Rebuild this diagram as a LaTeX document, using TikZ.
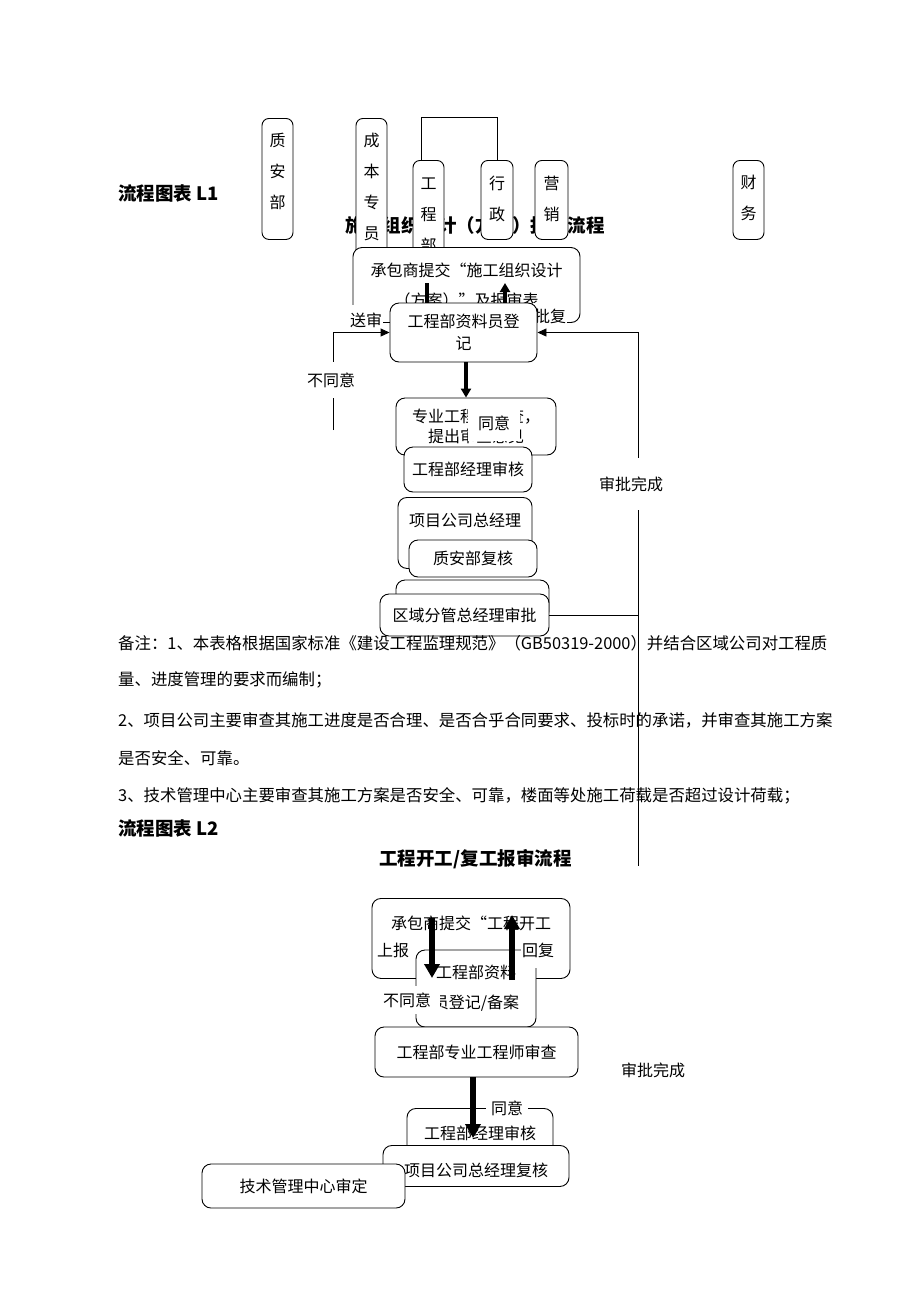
\documentclass[tikz,border=0pt]{standalone}
\usepackage{fontspec}
\setmainfont{Noto Sans CJK SC}
\usetikzlibrary{arrows.meta}

\newcommand{\boxfont}{\fontsize{16}{22}\selectfont}
\newcommand{\notefont}{\fontsize{16.4}{20}\selectfont}
\newcommand{\headfont}{\fontsize{18.5}{22}\selectfont\bfseries}
\newcommand{\vcol}[1]{\vtop{\baselineskip=31pt #1}}

\tikzset{
  box/.style={draw, line width=0.9pt, rounded corners=9pt, fill=white, align=center, font=\boxfont, inner sep=0pt},
  topbox/.style={box, anchor=north},
  vbox/.style={draw, line width=0.9pt, rounded corners=7pt, fill=white, font=\boxfont, inner sep=0pt, anchor=north},
  lbl/.style={fill=white, font=\boxfont, inner xsep=1pt, inner ysep=0pt},
  link/.style={line width=0.9pt},
  flow/.style={line width=0.9pt, -{Triangle[length=9pt,width=8pt]}},
  fatarrow/.style={line width=3.5pt, -{Triangle[length=9pt,width=10pt]}},
  hugearrow/.style={line width=6.5pt, -{Triangle[length=14pt,width=15pt]}},
  note/.style={anchor=west, font=\notefont, inner sep=0pt},
  head/.style={font=\headfont, inner sep=0pt},
}

\begin{document}
\begin{tikzpicture}[x=1pt,y=-1pt]
    \fill[white] (0,0) rectangle (920,1302);
    \useasboundingbox (0,0) rectangle (920,1302);

    % flow chart L1
    \node[head, anchor=west] (l1) at (118,193) {流程图表 L1};
    \node[head] (t1) at (475,225) {施工组织设计（方案）报审流程};

    \node[vbox, minimum width=31pt, text height=28pt, text depth=93pt] (zab) at (277.5,118) {\vcol{\hbox{质}\hbox{安}\hbox{部}}};
    \node[vbox, minimum width=31pt, text height=28pt, text depth=124pt] (cbzy) at (371.5,118) {\vcol{\hbox{成}\hbox{本}\hbox{专}\hbox{员}}};
    \node[vbox, minimum width=31pt, text height=29pt, text depth=81pt] (gcb) at (428.5,160) {\vcol{\hbox{工}\hbox{程}\hbox{部}}};
    \node[vbox, minimum width=32pt, text height=29pt, text depth=50pt] (xz) at (497,160) {\vcol{\hbox{行}\hbox{政}}};
    \node[vbox, minimum width=33pt, text height=29pt, text depth=50pt] (yx) at (551.5,160) {\vcol{\hbox{营}\hbox{销}}};
    \node[vbox, minimum width=31pt, text height=28pt, text depth=51pt] (cw) at (748.5,160) {\vcol{\hbox{财}\hbox{务}}};
    \draw[link] ([xshift=-7.5pt]gcb.north) -- ++(0,-43) -| (xz.north);

    \node[box, minimum width=227pt, minimum height=75pt, font=\fontsize{16}{30}\selectfont] (cb1) at (466.5,285) {承包商提交“施工组织设计\\（方案）”及报审表};

    \coordinate (sd1) at (427,283);
    \coordinate (sd2) at (427,320);
    \coordinate (pf1) at (505,320);
    \coordinate (pf2) at (505,283);
    \draw[fatarrow] (sd1) -- (sd2);
    \draw[fatarrow] (pf1) -- (pf2);
    \node[lbl, minimum height=26pt] (pf) at (550,316) {批复};
    \node[lbl, minimum height=30pt] (sd) at (366,320) {送审};

    \node[box, minimum width=147pt, minimum height=59pt] (reg) at (463.5,332.5) {工程部资料员登\\记};

    \coordinate (bty1) at (333,430);
    \coordinate (bty2) at (333,332.5);
    \draw[flow] (bty1) -- (bty2) -- (reg.west);
    \node[lbl, minimum height=36pt] (bty) at (331,380) {不同意};

    \node[box, minimum width=160pt, minimum height=57pt, font=\fontsize{16}{20}\selectfont] (zy) at (476,426.5) {专业工程师审查，\\提出审查意见};
    \draw[fatarrow] ([xshift=2.5pt]reg.south) -- ([xshift=-10pt]zy.north);
    \node[lbl, minimum width=52pt, minimum height=36pt] (ty1) at (494,423) {同意};

    \node[box, minimum width=128pt, minimum height=45pt] (jl) at (468,469.5) {工程部经理审核};
    \node[topbox, minimum width=134pt, text height=29pt, text depth=42pt] (xm) at (465,497) {项目公司总经理};
    \node[box, minimum width=128pt, minimum height=37pt] (zafh) at (473,558.5) {质安部复核};
    \node[box, minimum width=153pt, minimum height=40pt] (qyb) at (472.5,600) {};
    \node[box, minimum width=169pt, minimum height=42pt] (qy) at (464.5,615) {区域分管总经理审批};

    \coordinate (sp1) at (638,615);
    \coordinate (sp2) at (638,332.5);
    \coordinate (sp3) at (638,866);
    \draw[link] (qy.east) -- (sp1) -- (sp3);
    \draw[flow] (sp1) -- (sp2) -- (reg.east);
    \node[lbl, minimum height=52pt] (spwc1) at (631,484) {审批完成};

    % notes
    \node[note] (n1) at (118,643) {备注：1、本表格根据国家标准《建设工程监理规范》（GB50319-2000）并结合区域公司对工程质};
    \node[note] (n2) at (118,680) {量、进度管理的要求而编制；};
    \node[note] (n3) at (118,720) {2、项目公司主要审查其施工进度是否合理、是否合乎合同要求、投标时的承诺，并审查其施工方案};
    \node[note] (n4) at (118,758) {是否安全、可靠。};
    \node[note] (n5) at (118,796) {3、技术管理中心主要审查其施工方案是否安全、可靠，楼面等处施工荷载是否超过设计荷载；};

    % flow chart L2
    \node[head, anchor=west] (l2) at (118,828) {流程图表 L2};
    \node[head] (t2) at (475.5,859) {工程开工/复工报审流程};

    \node[topbox, minimum width=198pt, text height=31pt, text depth=49pt] (cb2) at (471,898) {承包商提交“工程开工};
    \node[box, minimum width=120pt, minimum height=77pt, font=\fontsize{16}{30}\selectfont] (zl2) at (476,988.5) {工程部资料\\员登记/备案};
    \node[lbl, minimum height=28pt] (sb) at (393,950) {上报};
    \node[lbl, minimum height=36pt] (hf) at (538,950) {回复};
    \node[lbl, minimum width=66pt, minimum height=28pt] (bty3) at (407,1000) {不同意};
    \coordinate (sb1) at (432,918);
    \coordinate (sb2) at (432,978);
    \coordinate (hf1) at (512,980);
    \coordinate (hf2) at (512,915);
    \draw[hugearrow] (sb1) -- (sb2);
    \draw[hugearrow] (hf1) -- (hf2);

    \node[box, minimum width=203pt, minimum height=50pt] (zg2) at (476.5,1052) {工程部专业工程师审查};
    \node[lbl] (spwc2) at (653,1070) {审批完成};

    \node[topbox, minimum width=146pt, text height=31pt, text depth=21pt] (jl2) at (480,1108) {工程部经理审核};
    \node[lbl, inner xsep=5pt] (ty2) at (507,1108) {同意};
    \coordinate (ty2e) at (473,1138);
    \draw[hugearrow] ([xshift=-3.5pt]zg2.south) -- (ty2e);

    \node[topbox, minimum width=186pt, text height=31pt, text depth=10pt] (xm2) at (476,1145) {项目公司总经理复核};
    \node[box, minimum width=203pt, minimum height=44pt] (js) at (303.5,1186) {技术管理中心审定};
\end{tikzpicture}
\end{document}
